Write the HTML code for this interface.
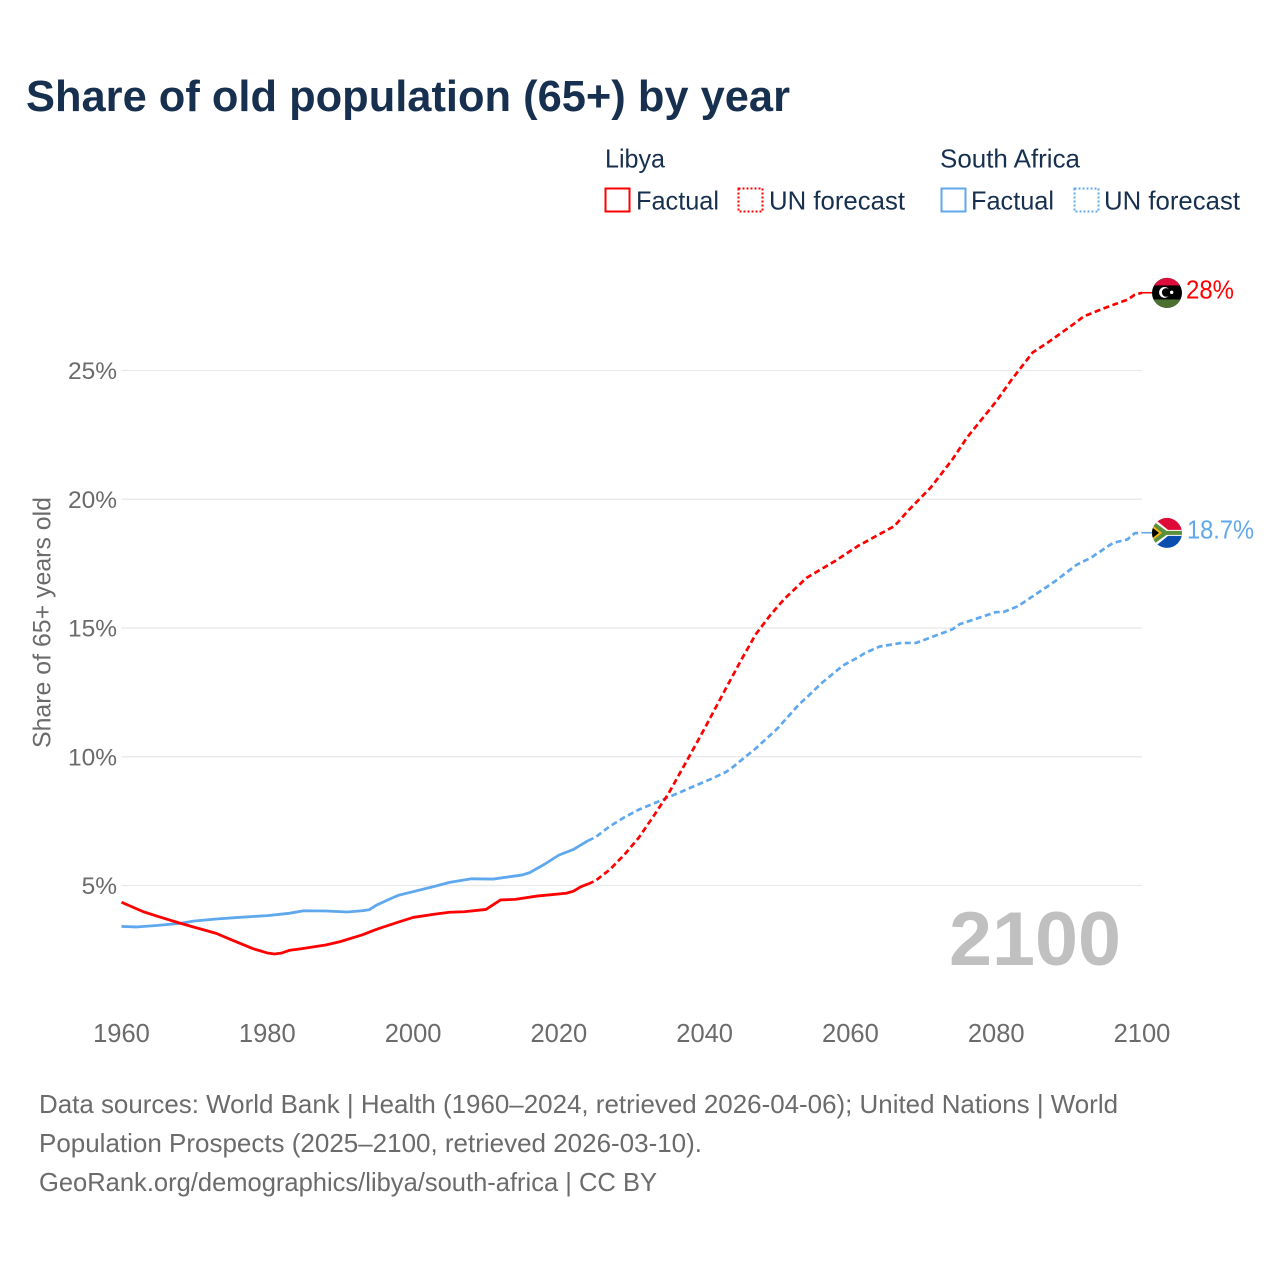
<!DOCTYPE html>
<html lang="en">
<head>
<meta charset="utf-8">
<title>Share of old population (65+) by year</title>
<style>
html,body{margin:0;padding:0;background:#fff;}
svg{display:block;font-family:"Liberation Sans",sans-serif;}
</style>
</head>
<body>
<svg id="chart" width="1280" height="1280" viewBox="0 0 1280 1280" xmlns="http://www.w3.org/2000/svg">
  <defs>
    <clipPath id="flag-clip"><circle cx="0" cy="0" r="15"/></clipPath>
  </defs>
  <rect x="0" y="0" width="1280" height="1280" fill="#fff"/>
  <text x="26" y="111" font-size="44" font-weight="700" fill="#18304f" textLength="764" lengthAdjust="spacingAndGlyphs">Share of old population (65+) by year</text>

  <g font-size="26" fill="#18304f">
    <text x="605" y="167.5" textLength="60" lengthAdjust="spacingAndGlyphs">Libya</text>
    <rect x="605.5" y="188.5" width="24" height="23" fill="none" stroke="#ff0000" stroke-width="2"/>
    <text x="636" y="209.5" textLength="83" lengthAdjust="spacingAndGlyphs">Factual</text>
    <rect x="738.5" y="188.5" width="24" height="23" fill="none" stroke="#ff0000" stroke-width="2" stroke-dasharray="2,2"/>
    <text x="769" y="209.5" textLength="136" lengthAdjust="spacingAndGlyphs">UN forecast</text>
    <text x="940" y="167.5" textLength="140" lengthAdjust="spacingAndGlyphs">South Africa</text>
    <rect x="941.5" y="188.5" width="24" height="23" fill="none" stroke="#5fa8ee" stroke-width="2"/>
    <text x="971" y="209.5" textLength="83" lengthAdjust="spacingAndGlyphs">Factual</text>
    <rect x="1074.5" y="188.5" width="24" height="23" fill="none" stroke="#5fa8ee" stroke-width="2" stroke-dasharray="2,2"/>
    <text x="1104" y="209.5" textLength="136" lengthAdjust="spacingAndGlyphs">UN forecast</text>
  </g>

  <text transform="translate(50.5,748) rotate(-90)" font-size="25" fill="#6b6b6b" textLength="251" lengthAdjust="spacingAndGlyphs">Share of 65+ years old</text>

  <g id="grid"></g>
  <g id="y-labels"></g>
  <g id="x-labels"></g>

  <text x="949" y="965" font-size="76" font-weight="700" fill="#c0c0c0" textLength="172" lengthAdjust="spacingAndGlyphs">2100</text>

  <g id="series"></g>

  <g id="flag-libya">
    <g clip-path="url(#flag-clip)">
      <rect x="-15" y="-16" width="30" height="32" fill="#000"/>
      <rect x="-15" y="-16" width="30" height="8.5" fill="#dc0f3c"/>
      <rect x="-15" y="6.5" width="30" height="10" fill="#4c7030"/>
      <circle cx="-2.5" cy="-0.5" r="5.4" fill="#fff"/>
      <circle cx="-0.8" cy="-0.5" r="4.3" fill="#000"/>
      <circle cx="4.7" cy="-0.6" r="1.7" fill="#fff"/>
    </g>
  </g>

  <g id="flag-south-africa">
    <g clip-path="url(#flag-clip)">
      <rect x="-15" y="-16" width="30" height="16" fill="#de0a37"/>
      <rect x="-15" y="0" width="30" height="16" fill="#0a4fb0"/>
      <path d="M-15,-16 L1,-3 H15 V3 H1 L-15,16 Z" fill="#fff"/>
      <path d="M-15,-12.5 L-0.5,-2 H15 V2 H-0.5 L-15,12.5 Z" fill="#5b8f3a"/>
      <path d="M-15,-8 L-5,0 L-15,8 Z" fill="#f2b818"/>
      <path d="M-15,-5.5 L-8,0 L-15,5.5 Z" fill="#000"/>
    </g>
  </g>

  <text id="label-libya" x="1186" y="298" font-size="26" fill="#ff0000" textLength="48" lengthAdjust="spacingAndGlyphs">28%</text>
  <text id="label-south-africa" x="1187" y="538" font-size="26" fill="#5fa8ee" textLength="67" lengthAdjust="spacingAndGlyphs">18.7%</text>

  <g font-size="26" fill="#6b6b6b">
    <text x="39" y="1113" textLength="1079" lengthAdjust="spacingAndGlyphs">Data sources: World Bank | Health (1960–2024, retrieved 2026-04-06); United Nations | World</text>
    <text x="39" y="1152" textLength="663" lengthAdjust="spacingAndGlyphs">Population Prospects (2025–2100, retrieved 2026-03-10).</text>
    <text x="39" y="1191" textLength="618" lengthAdjust="spacingAndGlyphs">GeoRank.org/demographics/libya/south-africa | CC BY</text>
  </g>
</svg>

<script>
const xTicks = [1960, 1980, 2000, 2020, 2040, 2060, 2080, 2100];
const yTicks = [5, 10, 15, 20, 25];

const libyaFactualYears = [1960,1963,1965,1968,1970,1973,1975,1978,1980,1981,1982,1983,1985,1988,1990,1993,1995,1998,2000,2003,2005,2007,2010,2012,2014,2017,2021,2022,2023,2024];
const libyaFactualValues = [4.35,3.98,3.8,3.54,3.38,3.14,2.9,2.55,2.38,2.34,2.38,2.48,2.56,2.69,2.82,3.08,3.3,3.58,3.76,3.89,3.96,3.98,4.07,4.44,4.46,4.59,4.7,4.78,4.95,5.06];

const libyaForecastYears = [2024,2025,2027,2029,2031,2033,2035,2038,2040,2043,2045,2047,2049,2051,2054,2058,2061,2065,2066,2068,2071,2074,2076,2080,2082,2085,2087,2091,2092,2095,2098,2099,2100];
const libyaForecastValues = [5.06,5.18,5.62,6.2,6.87,7.7,8.55,10.07,11.1,12.7,13.75,14.75,15.5,16.15,16.95,17.62,18.18,18.8,18.95,19.58,20.45,21.55,22.4,23.8,24.6,25.7,26.07,26.88,27.1,27.44,27.75,27.94,28.02];

const southAfricaFactualYears = [1960,1962,1965,1968,1970,1973,1976,1980,1983,1985,1988,1991,1993,1994,1995,1997,1998,2000,2003,2005,2008,2011,2015,2016,2018,2020,2022,2024];
const southAfricaFactualValues = [3.41,3.39,3.45,3.53,3.62,3.7,3.76,3.83,3.92,4.02,4.01,3.97,4.02,4.06,4.24,4.5,4.62,4.76,4.97,5.12,5.26,5.25,5.41,5.5,5.82,6.18,6.4,6.74];

const southAfricaForecastYears = [2024,2025,2027,2029,2031,2034,2038,2041,2043,2044,2047,2050,2053,2054,2056,2059,2061,2062,2064,2067,2069,2074,2075,2080,2081,2083,2088,2091,2093,2096,2098,2099,2100];
const southAfricaForecastValues = [6.74,6.87,7.3,7.65,7.95,8.3,8.79,9.15,9.42,9.63,10.32,11.1,12.05,12.3,12.85,13.55,13.85,14.03,14.28,14.42,14.42,14.95,15.15,15.62,15.62,15.85,16.8,17.45,17.73,18.3,18.44,18.68,18.7];

const SVG_NS = 'http://www.w3.org/2000/svg';
const RED = '#ff0000';
const BLUE = '#5fa8ee';

function xScale(year) {
  return 121.5 + (year - 1960) * (1142 - 121.5) / 140;
}
function yScale(value) {
  return 885.5 - (value - 5) * 25.75;
}
function pointsOf(years, values) {
  return years.map(function (y, i) {
    return xScale(y).toFixed(2) + ',' + yScale(values[i]).toFixed(2);
  }).join(' ');
}

const gridLayer = document.getElementById('grid');
const yLabelLayer = document.getElementById('y-labels');
const xLabelLayer = document.getElementById('x-labels');
const seriesLayer = document.getElementById('series');

yTicks.forEach(function (t) {
  const line = document.createElementNS(SVG_NS, 'line');
  
  
  line.setAttribute('x1', xScale(1960));
  line.setAttribute('x2', xScale(2100));
  line.setAttribute('y1', yScale(t));
  line.setAttribute('y2', yScale(t));
  line.setAttribute('stroke', '#e8e8e8');
  line.setAttribute('stroke-width', '1.3');
  gridLayer.appendChild(line);

  const label = document.createElementNS(SVG_NS, 'text');
  
  
  label.setAttribute('x', 117);
  label.setAttribute('y', yScale(t) + 8.5);
  label.setAttribute('text-anchor', 'end');
  label.setAttribute('font-size', '24.5');
  label.setAttribute('fill', '#6b6b6b');
  label.textContent = t + '%';
  yLabelLayer.appendChild(label);
});

xTicks.forEach(function (t) {
  const label = document.createElementNS(SVG_NS, 'text');
  
  
  label.setAttribute('x', xScale(t));
  label.setAttribute('y', 1042);
  label.setAttribute('text-anchor', 'middle');
  label.setAttribute('font-size', '25.5');
  label.setAttribute('fill', '#6b6b6b');
  label.textContent = t;
  xLabelLayer.appendChild(label);
});

function drawLine(name, years, values, color, dashed) {
  const line = document.createElementNS(SVG_NS, 'polyline');
  
  
  line.setAttribute('points', pointsOf(years, values));
  line.setAttribute('fill', 'none');
  line.setAttribute('stroke', color);
  line.setAttribute('stroke-width', dashed ? '2.7' : '2.8');
  line.setAttribute('stroke-linejoin', 'round');
  if (dashed) {
    line.setAttribute('stroke-dasharray', '6,3.5');
  }
  seriesLayer.appendChild(line);
}

drawLine('south-africa-forecast-line', southAfricaForecastYears, southAfricaForecastValues, BLUE, true);
drawLine('libya-forecast-line', libyaForecastYears, libyaForecastValues, RED, true);
drawLine('south-africa-factual-line', southAfricaFactualYears, southAfricaFactualValues, BLUE, false);
drawLine('libya-factual-line', libyaFactualYears, libyaFactualValues, RED, false);

function placeEnd(flagId, labelId, color, name, years, values) {
  const lastYear = years[years.length - 1];
  const lastValue = values[values.length - 1];
  const ly = yScale(lastValue);
  const leader = document.createElementNS(SVG_NS, 'line');
  
  
  leader.setAttribute('x1', xScale(lastYear));
  leader.setAttribute('x2', xScale(lastYear) + 12);
  leader.setAttribute('y1', ly);
  leader.setAttribute('y2', ly);
  leader.setAttribute('stroke', color);
  leader.setAttribute('stroke-width', '1.6');
  seriesLayer.appendChild(leader);
  document.getElementById(flagId).setAttribute('transform', 'translate(1167,' + (ly + 0.2) + ')');
  document.getElementById(labelId).setAttribute('y', ly + 6);
}
placeEnd('flag-libya', 'label-libya', RED, 'libya', libyaForecastYears, libyaForecastValues);
placeEnd('flag-south-africa', 'label-south-africa', BLUE, 'south-africa', southAfricaForecastYears, southAfricaForecastValues);
</script>
</body>
</html>
